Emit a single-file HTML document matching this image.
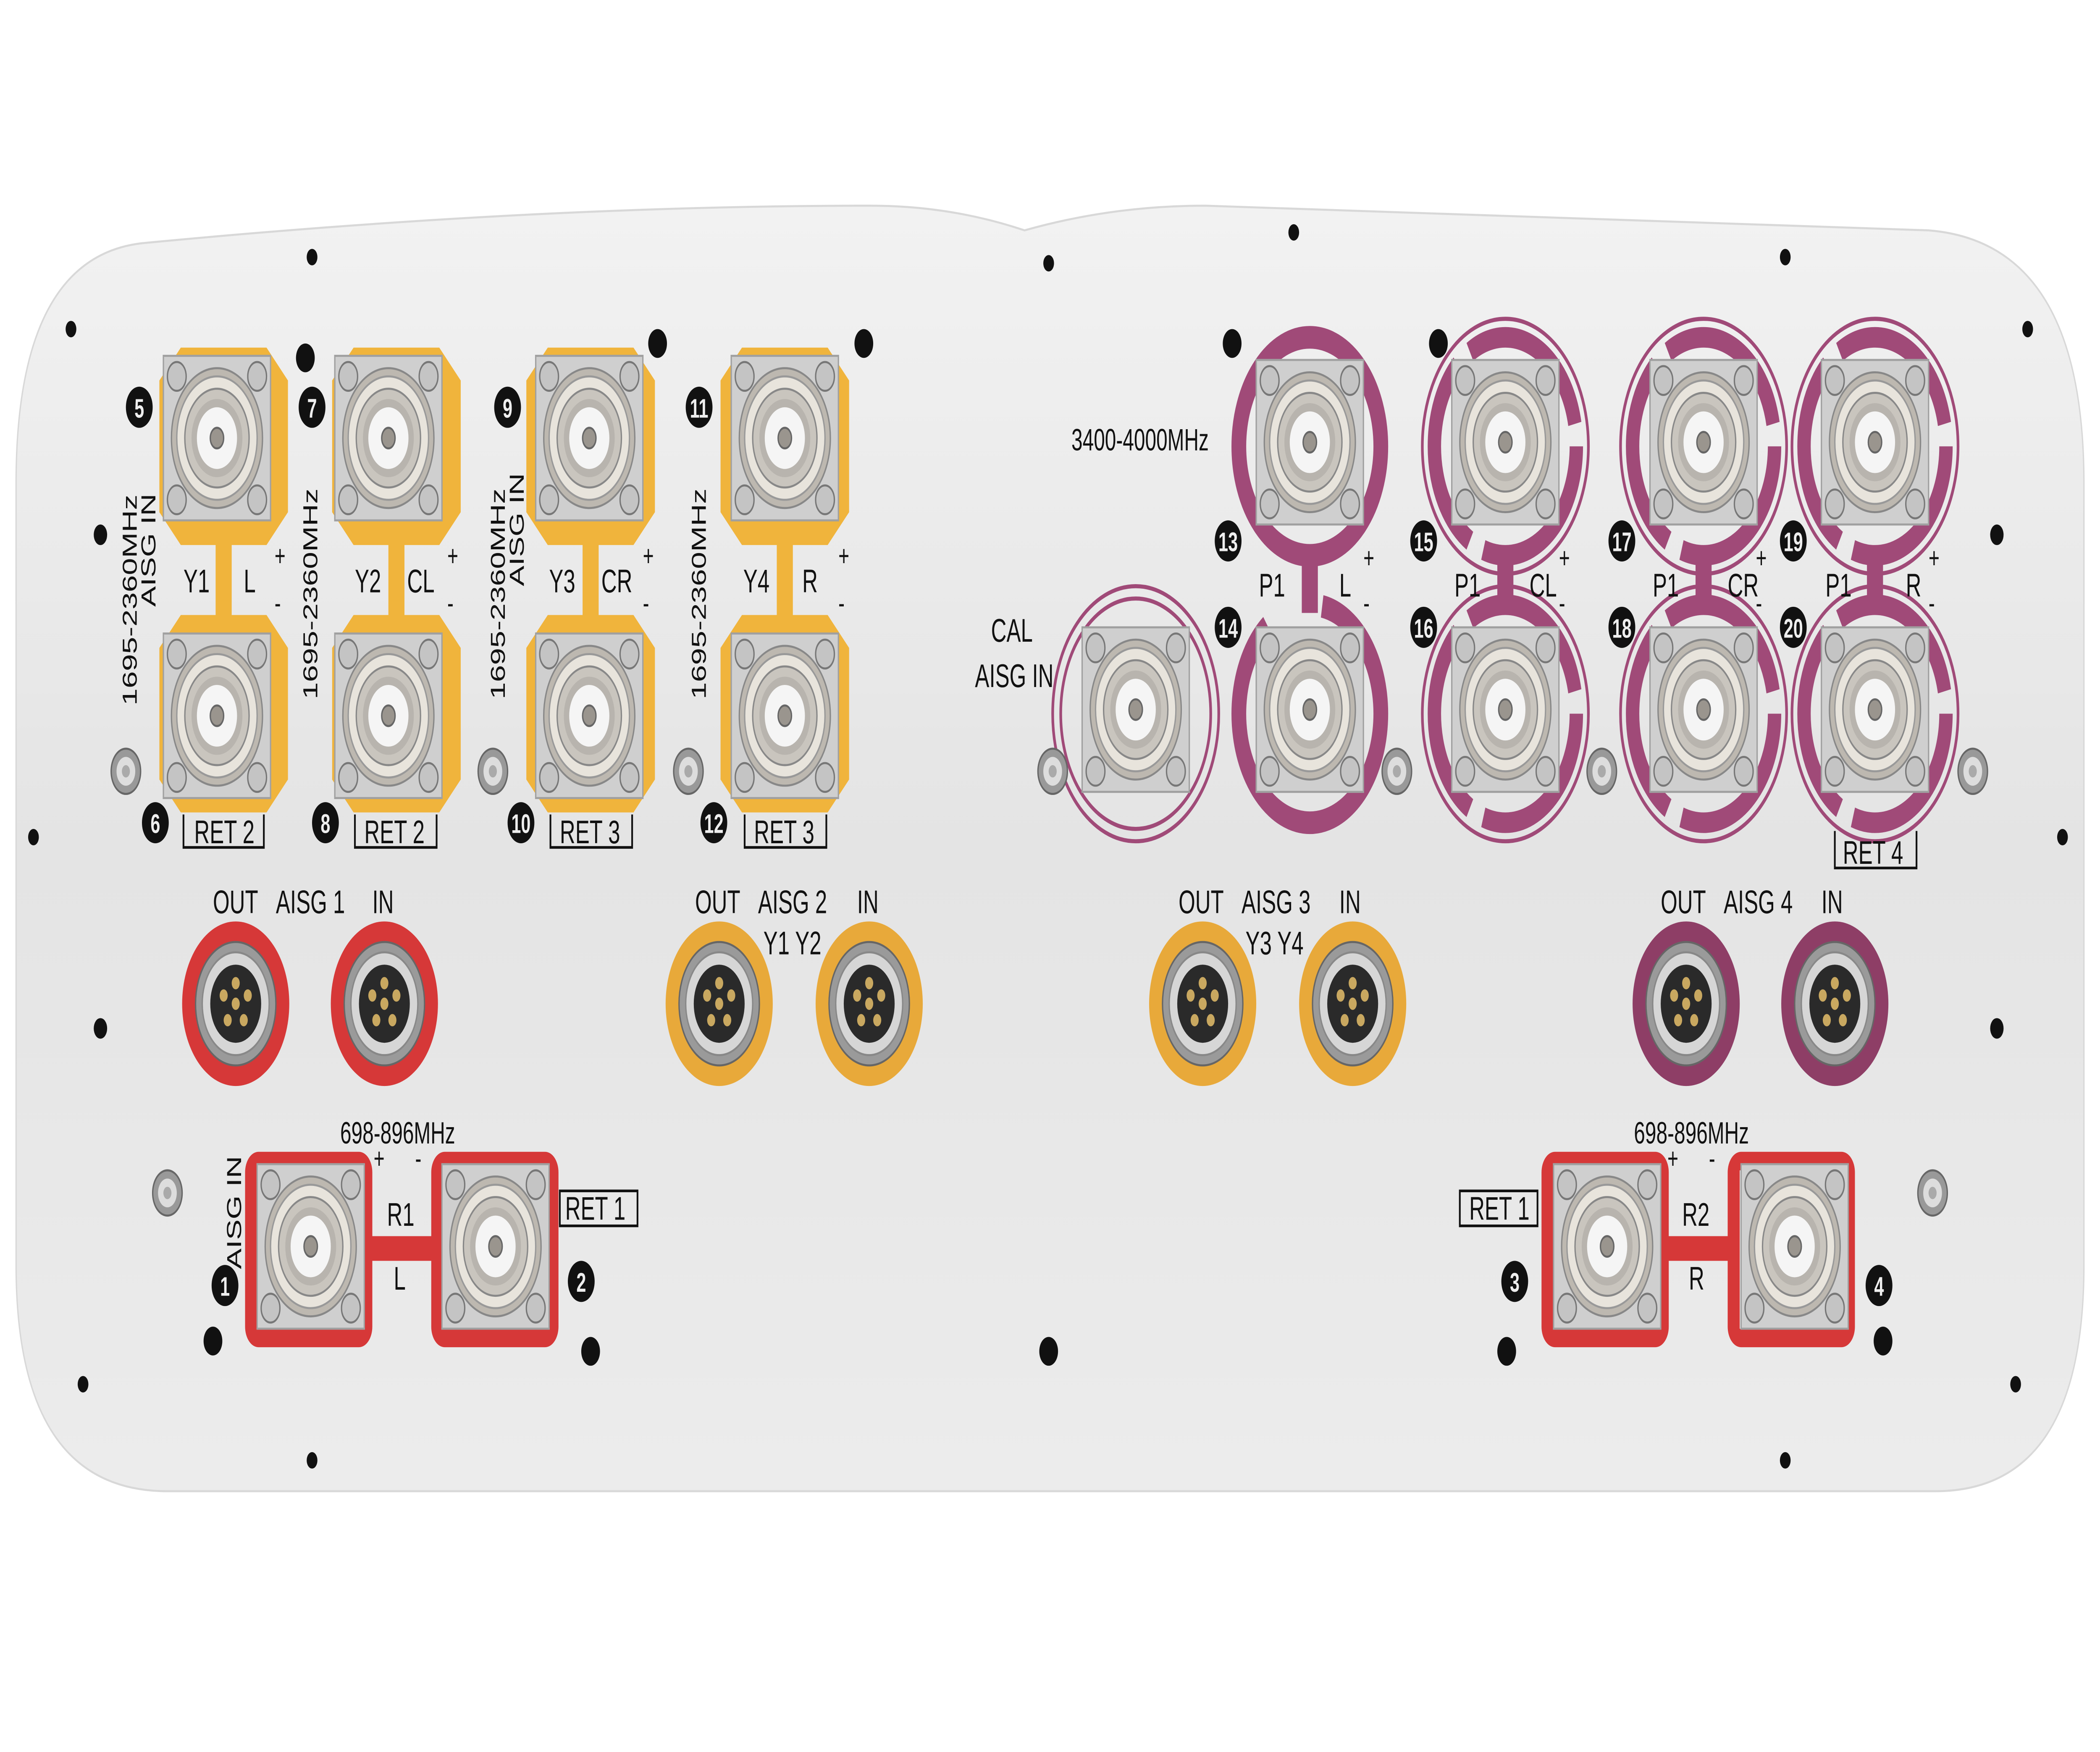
<!DOCTYPE html>
<html><head><meta charset="utf-8"><style>
html,body{margin:0;padding:0;background:#fff;width:100%;height:100%;overflow:hidden;}
svg{display:block;position:fixed;left:0;top:0;width:100vw;height:100vh;}
text{font-family:"Liberation Sans",sans-serif;fill:#111;}
</style></head><body>
<svg viewBox="0 0 1568 851.8" preserveAspectRatio="none" xmlns="http://www.w3.org/2000/svg">
<defs>
<linearGradient id="pg" x1="0" y1="0" x2="0" y2="1">
<stop offset="0" stop-color="#f2f2f2"/><stop offset="0.5" stop-color="#e4e4e4"/><stop offset="1" stop-color="#ececec"/>
</linearGradient>
<g id="conn">
<rect x="-40" y="-40" width="80" height="80" fill="#cfcfcf" stroke="#a0a0a0"/>
<circle cx="-30" cy="-30" r="7" fill="#c4c4c4" stroke="#777"/><circle cx="30" cy="-30" r="7" fill="#c4c4c4" stroke="#777"/>
<circle cx="-30" cy="30" r="7" fill="#c4c4c4" stroke="#777"/><circle cx="30" cy="30" r="7" fill="#c4c4c4" stroke="#777"/>
<circle r="34" fill="#bdb8b0" stroke="#888"/>
<circle r="30" fill="#e8e4dc" stroke="#999"/>
<circle r="24" fill="#c9c5be" stroke="#888"/>
<circle r="19" fill="#b8b4ae"/>
<circle r="15" fill="#f5f5f5"/>
<circle r="5" fill="#9a958e" stroke="#666"/>
</g>
<g id="aisg">
<circle r="30" fill="#9a9a9a" stroke="#666"/>
<circle r="25" fill="#d6d6d6" stroke="#888"/>
<circle r="19" fill="#2a2a2a"/>
<circle r="3" fill="#c9a860"/><circle cx="0" cy="-10" r="3" fill="#c9a860"/><circle cx="9" cy="-4" r="3" fill="#c9a860"/>
<circle cx="-9" cy="-4" r="3" fill="#c9a860"/><circle cx="6" cy="8" r="3" fill="#c9a860"/><circle cx="-6" cy="8" r="3" fill="#c9a860"/>
</g>
<g id="gnd">
<circle r="11" fill="#999" stroke="#666"/><circle r="7" fill="#ddd"/><circle r="3" fill="#aaa"/>
</g>
<path id="oct" d="M-32,-48 H32 L48,-32 V32 L32,48 H-32 L-48,32 V-32 Z"/>
</defs>

<rect width="1568" height="852" fill="#fff"/>
<path d="M110,118 Q400,100 650,100 Q710,100 765,112 Q830,100 900,100 L1440,112 Q1556,118 1556,235 L1556,615 Q1556,725 1445,725 L125,725 Q12,725 12,615 L12,235 Q12,123 110,118 Z" fill="url(#pg)" stroke="#d8d8d8"/>

<g fill="#f0b43c">
<use href="#oct" x="167" y="217"/><use href="#oct" x="167" y="347"/><rect x="161" y="260" width="12" height="45"/>
<use href="#oct" x="296" y="217"/><use href="#oct" x="296" y="347"/><rect x="290" y="260" width="12" height="45"/>
<use href="#oct" x="441" y="217"/><use href="#oct" x="441" y="347"/><rect x="435" y="260" width="12" height="45"/>
<use href="#oct" x="586" y="217"/><use href="#oct" x="586" y="347"/><rect x="580" y="260" width="12" height="45"/>
</g>
<g fill="#d63838">
<rect x="183" y="560" width="95" height="95" rx="10"/><rect x="322" y="560" width="95" height="95" rx="10"/><rect x="270" y="601" width="60" height="12"/>
<rect x="1151" y="560" width="95" height="95" rx="10"/><rect x="1290" y="560" width="95" height="95" rx="10"/><rect x="1240" y="601" width="56" height="12"/>
</g>
<g fill="#f0f0f0"><rect x="1160" y="569" width="77" height="77"/><rect x="1299" y="569" width="77" height="77"/></g>
<g fill="none" stroke="#a04a78" stroke-width="11">
<circle cx="978" cy="217" r="53"/><circle cx="978" cy="347" r="53" stroke-dasharray="290 43" transform="rotate(-80 978 347)"/>
</g>
<g fill="none" stroke="#a04a78" stroke-width="10" stroke-dasharray="100 11">
<circle cx="1124" cy="217" r="53"/><circle cx="1124" cy="347" r="53"/>
<circle cx="1272" cy="217" r="53"/><circle cx="1272" cy="347" r="53"/>
<circle cx="1400" cy="217" r="53"/><circle cx="1400" cy="347" r="53"/>
</g>
<g fill="none" stroke="#a04a78" stroke-width="2">
<circle cx="1124" cy="217" r="62"/><circle cx="1124" cy="347" r="62"/>
<circle cx="1272" cy="217" r="62"/><circle cx="1272" cy="347" r="62"/>
<circle cx="1400" cy="217" r="62"/><circle cx="1400" cy="347" r="62"/>
<circle cx="848" cy="347" r="56"/><circle cx="848" cy="347" r="62"/>
</g>
<g fill="#a04a78"><rect x="972" y="268" width="12" height="30"/><rect x="1118" y="268" width="12" height="30"/><rect x="1266" y="268" width="12" height="30"/><rect x="1394" y="268" width="12" height="30"/></g>

<use href="#conn" x="162" y="213"/><use href="#conn" x="162" y="348"/>
<use href="#conn" x="290" y="213"/><use href="#conn" x="290" y="348"/>
<use href="#conn" x="440" y="213"/><use href="#conn" x="440" y="348"/>
<use href="#conn" x="586" y="213"/><use href="#conn" x="586" y="348"/>
<use href="#conn" x="232" y="606"/><use href="#conn" x="370" y="606"/>
<use href="#conn" x="1200" y="606"/><use href="#conn" x="1340" y="606"/>
<use href="#conn" x="978" y="215"/><use href="#conn" x="978" y="345"/>
<use href="#conn" x="1124" y="215"/><use href="#conn" x="1124" y="345"/>
<use href="#conn" x="1272" y="215"/><use href="#conn" x="1272" y="345"/>
<use href="#conn" x="1400" y="215"/><use href="#conn" x="1400" y="345"/>
<use href="#conn" x="848" y="345"/>

<g fill="#d63838"><circle cx="176" cy="488" r="40"/><circle cx="287" cy="488" r="40"/></g>
<g fill="#e8a93a"><circle cx="537" cy="488" r="40"/><circle cx="649" cy="488" r="40"/><circle cx="898" cy="488" r="40"/><circle cx="1010" cy="488" r="40"/></g>
<g fill="#8e3e66"><circle cx="1259" cy="488" r="40"/><circle cx="1370" cy="488" r="40"/></g>
<use href="#aisg" x="176" y="488"/><use href="#aisg" x="287" y="488"/><use href="#aisg" x="537" y="488"/><use href="#aisg" x="649" y="488"/>
<use href="#aisg" x="898" y="488"/><use href="#aisg" x="1010" y="488"/><use href="#aisg" x="1259" y="488"/><use href="#aisg" x="1370" y="488"/>

<use href="#gnd" x="94" y="375"/><use href="#gnd" x="368" y="375"/><use href="#gnd" x="514" y="375"/><use href="#gnd" x="786" y="375"/>
<use href="#gnd" x="1043" y="375"/><use href="#gnd" x="1196" y="375"/><use href="#gnd" x="1473" y="375"/><use href="#gnd" x="125" y="580"/><use href="#gnd" x="1443" y="580"/>

<g fill="#111">
<circle cx="228" cy="174" r="7"/><circle cx="491" cy="167" r="7"/><circle cx="645" cy="167" r="7"/><circle cx="920" cy="167" r="7"/><circle cx="1074" cy="167" r="7"/>
<circle cx="159" cy="652" r="7"/><circle cx="441" cy="657" r="7"/><circle cx="783" cy="657" r="7"/><circle cx="1125" cy="657" r="7"/><circle cx="1406" cy="652" r="7"/>
<circle cx="75" cy="500" r="5"/><circle cx="1491" cy="500" r="5"/><circle cx="75" cy="260" r="5"/><circle cx="1491" cy="260" r="5"/>
<circle cx="233" cy="125" r="4"/><circle cx="783" cy="128" r="4"/><circle cx="966" cy="113" r="4"/><circle cx="1333" cy="125" r="4"/><circle cx="1514" cy="160" r="4"/><circle cx="53" cy="160" r="4"/>
<circle cx="25" cy="407" r="4"/><circle cx="1540" cy="407" r="4"/><circle cx="62" cy="673" r="4"/><circle cx="1505" cy="673" r="4"/><circle cx="233" cy="710" r="4"/><circle cx="1333" cy="710" r="4"/>
</g>

<g fill="#111">
<circle cx="104" cy="198" r="10"/><circle cx="116" cy="400" r="10"/><circle cx="233" cy="198" r="10"/><circle cx="243" cy="400" r="10"/>
<circle cx="379" cy="198" r="10"/><circle cx="389" cy="400" r="10"/><circle cx="522" cy="198" r="10"/><circle cx="533" cy="400" r="10"/>
<circle cx="917" cy="263" r="10"/><circle cx="917" cy="305" r="10"/><circle cx="1063" cy="263" r="10"/><circle cx="1063" cy="305" r="10"/>
<circle cx="1211" cy="263" r="10"/><circle cx="1211" cy="305" r="10"/><circle cx="1339" cy="263" r="10"/><circle cx="1339" cy="305" r="10"/>
<circle cx="168" cy="625" r="10"/><circle cx="434" cy="623" r="10"/><circle cx="1131" cy="623" r="10"/><circle cx="1403" cy="625" r="10"/>
</g>
<g font-size="13" font-weight="bold" text-anchor="middle">
<text x="104" y="203" style="fill:#eee">5</text><text x="116" y="405" style="fill:#eee">6</text><text x="233" y="203" style="fill:#eee">7</text><text x="243" y="405" style="fill:#eee">8</text>
<text x="379" y="203" style="fill:#eee">9</text><text x="389" y="405" style="fill:#eee">10</text><text x="522" y="203" style="fill:#eee">11</text><text x="533" y="405" style="fill:#eee">12</text>
<text x="917" y="268" style="fill:#eee">13</text><text x="917" y="310" style="fill:#eee">14</text><text x="1063" y="268" style="fill:#eee">15</text><text x="1063" y="310" style="fill:#eee">16</text>
<text x="1211" y="268" style="fill:#eee">17</text><text x="1211" y="310" style="fill:#eee">18</text><text x="1339" y="268" style="fill:#eee">19</text><text x="1339" y="310" style="fill:#eee">20</text>
<text x="168" y="630" style="fill:#eee">1</text><text x="434" y="628" style="fill:#eee">2</text><text x="1131" y="628" style="fill:#eee">3</text><text x="1403" y="630" style="fill:#eee">4</text>
</g>

<g font-size="16">
<text x="137" y="288">Y1</text><text x="182" y="288">L</text><text x="265" y="288">Y2</text><text x="304" y="288">CL</text>
<text x="410" y="288">Y3</text><text x="449" y="288">CR</text><text x="555" y="288">Y4</text><text x="599" y="288">R</text>
<text x="940" y="290">P1</text><text x="1000" y="290">L</text><text x="1086" y="290">P1</text><text x="1142" y="290">CL</text>
<text x="1234" y="290">P1</text><text x="1290" y="290">CR</text><text x="1363" y="290">P1</text><text x="1423" y="290">R</text>
<text x="800" y="219" font-size="15">3400-4000MHz</text>
<text x="740" y="312">CAL</text><text x="728" y="334">AISG IN</text>
<text x="159" y="444">OUT</text><text x="206" y="444">AISG 1</text><text x="278" y="444">IN</text>
<text x="519" y="444">OUT</text><text x="566" y="444">AISG 2</text><text x="640" y="444">IN</text><text x="570" y="464">Y1 Y2</text>
<text x="880" y="444">OUT</text><text x="927" y="444">AISG 3</text><text x="1000" y="444">IN</text><text x="930" y="464">Y3 Y4</text>
<text x="1240" y="444">OUT</text><text x="1287" y="444">AISG 4</text><text x="1360" y="444">IN</text>
<text x="254" y="556" font-size="15">698-896MHz</text><text x="1220" y="556" font-size="15">698-896MHz</text>
<text x="289" y="596">R1</text><text x="294" y="627">L</text><text x="1256" y="596">R2</text><text x="1261" y="627">R</text>
<text x="145" y="410">RET 2</text><text x="272" y="410">RET 2</text><text x="418" y="410">RET 3</text><text x="563" y="410">RET 3</text>
<text x="1376" y="420">RET 4</text><text x="422" y="593">RET 1</text><text x="1097" y="593">RET 1</text>
</g>
<g font-size="14">
<text x="205" y="275">+</text><text x="205" y="298">-</text><text x="334" y="275">+</text><text x="334" y="298">-</text>
<text x="480" y="275">+</text><text x="480" y="298">-</text><text x="626" y="275">+</text><text x="626" y="298">-</text>
<text x="1018" y="276">+</text><text x="1018" y="298">-</text><text x="1164" y="276">+</text><text x="1164" y="298">-</text>
<text x="1311" y="276">+</text><text x="1311" y="298">-</text><text x="1440" y="276">+</text><text x="1440" y="298">-</text>
<text x="279" y="568">+</text><text x="310" y="568">-</text><text x="1245" y="568">+</text><text x="1276" y="568">-</text>
</g>
<g fill="none" stroke="#111" stroke-width="1.3">
<path d="M137,396 V412 H197 V396"/><path d="M265,396 V412 H326 V396"/><path d="M411,396 V412 H472 V396"/><path d="M556,396 V412 H617 V396"/>
<path d="M1370,404 V422 H1431 V404"/><rect x="418" y="579" width="58" height="17"/><rect x="1090" y="579" width="58" height="17"/>
</g>
<g font-size="15">
<text transform="translate(102,343) rotate(-90)">1695-2360MHz</text><text transform="translate(116,295) rotate(-90)">AISG IN</text>
<text transform="translate(237,340) rotate(-90)">1695-2360MHz</text>
<text transform="translate(377,340) rotate(-90)">1695-2360MHz</text><text transform="translate(391,285) rotate(-90)">AISG IN</text>
<text transform="translate(527,340) rotate(-90)">1695-2360MHz</text>
<text transform="translate(180,617) rotate(-90)">AISG IN</text>
</g>
</svg>
</body></html>
